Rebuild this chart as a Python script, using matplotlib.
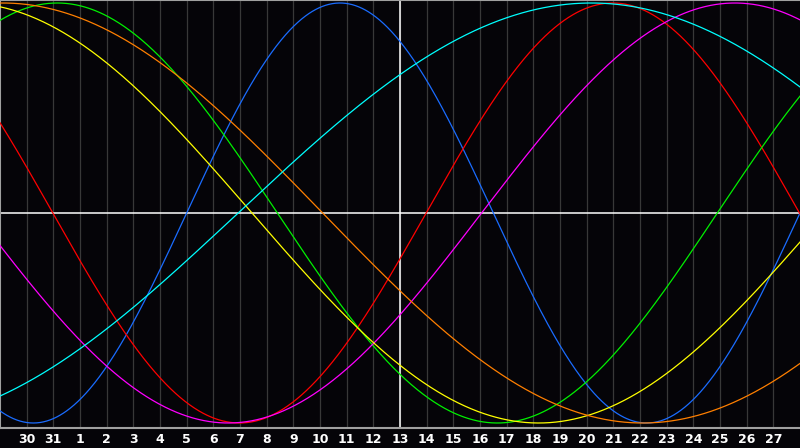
import numpy as np
import matplotlib
matplotlib.use('Agg')
import matplotlib.pyplot as plt

# day labels along the bottom (one per grid line)
day_labels = [30, 31] + list(range(1, 28))

# cycles: period in days and the day (from left edge) where the curve crosses zero going up
periods = [23, 28, 33, 38, 43, 48, 53]
zero_up = [7.0, 15.98, 26.9, 18.06, 30.95, 36.1, 8.93]
colors = ['#1a6cff', '#ff0000', '#00f000', '#ff00ff', '#ffff00', '#ff7f00', '#00ffff']

bg = '#050408'

fig = plt.figure(figsize=(8, 4.48), dpi=100, facecolor=bg)
ax = fig.add_axes([0, 20 / 448, 1, 428 / 448])
ax.set_facecolor(bg)

n_days = len(day_labels) + 1
t = np.linspace(0, n_days, 1200)

for i in range(1, n_days):
    ax.axvline(i, color='#383838', lw=0.9, zorder=1)

for p, z, c in zip(periods, zero_up, colors):
    ax.plot(t, np.sin(2 * np.pi * (t - z) / p), color=c, lw=0.9, zorder=3)

ax.axhline(0, color='white', lw=1.1, zorder=2)
ax.axvline(n_days / 2, color='white', lw=1.1, zorder=2)

ax.set_xlim(0, n_days)
ax.set_ylim(-215 / 210, 213 / 210)
ax.set_xticks([])
ax.set_yticks([])
ax.spines['right'].set_visible(False)
for s in ['top', 'left', 'bottom']:
    ax.spines[s].set_color('#a0a0a0')
    ax.spines[s].set_linewidth(1.5)

for i, d in enumerate(day_labels, start=1):
    ax.text(i, -0.012, str(d), transform=ax.get_xaxis_transform(),
            ha='center', va='top', color='white', fontsize=9, fontweight='bold',
            family='DejaVu Sans')

fig.savefig('out.png', dpi=100, facecolor=bg)
